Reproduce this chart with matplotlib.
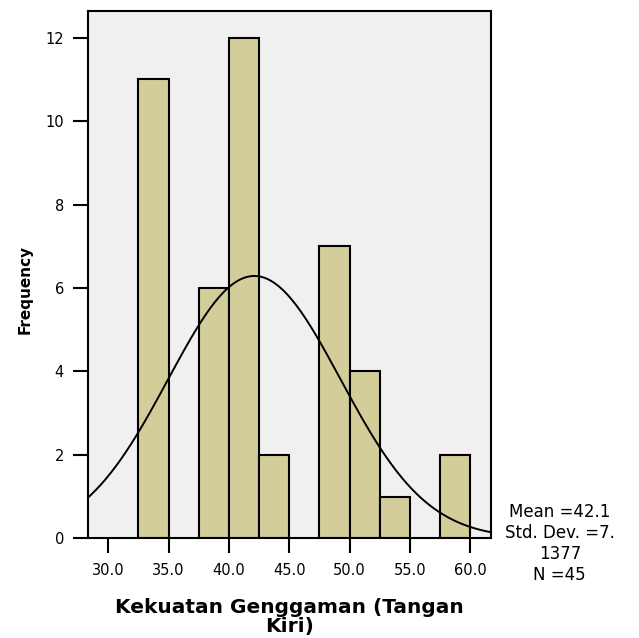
import numpy as np
import matplotlib
matplotlib.use("Agg")
import matplotlib.pyplot as plt

# histogram data (bin width 2.5)
bin_left = [32.5, 37.5, 40.0, 42.5, 47.5, 50.0, 52.5, 57.5]
counts = [11, 6, 12, 2, 7, 4, 1, 2]
bin_width = 2.5

mean_val = 42.1
std_val = 7.1377
n_val = 45

x_ticks = [30.0, 35.0, 40.0, 45.0, 50.0, 55.0, 60.0]
y_ticks = [0, 2, 4, 6, 8, 10, 12]

plt.rcParams['font.family'] = ['DejaVu Sans']

fig = plt.figure(figsize=(6.39, 6.38), dpi=100)
ax = fig.add_axes([0.137, 0.1563, 0.631, 0.8265])
ax.set_facecolor('#f0f0f0')

ax.bar(bin_left, counts, width=bin_width, align='edge',
       color='#d3ce99', edgecolor='black', linewidth=1.5, zorder=2)

# fitted normal curve
xs = np.linspace(28.28, 61.69, 400)
ys = n_val * bin_width / (std_val * np.sqrt(2 * np.pi)) * np.exp(-0.5 * ((xs - mean_val) / std_val) ** 2)
ax.plot(xs, ys, color='black', linewidth=1.4, zorder=3)

ax.set_xlim(28.28, 61.69)
ax.set_ylim(0, 12.64)
ax.set_xticks(x_ticks)
ax.set_xticklabels([f"{t:.1f}" for t in x_ticks])
ax.set_yticks(y_ticks)
ax.tick_params(axis='both', direction='out', length=11, width=1.5, labelsize=10.5, colors='black')
ax.tick_params(axis='x', pad=7)
ax.tick_params(axis='y', pad=6)
for sp in ax.spines.values():
    sp.set_linewidth(1.5)

ax.set_ylabel('Frequency', fontsize=11, fontweight='bold')
ax.yaxis.set_label_coords(-0.135, 0.471)
ax.set_xlabel('Kekuatan Genggaman (Tangan\nKiri)', fontsize=14.5, fontweight='bold',
              labelpad=14, linespacing=1.0)

fig.text(0.876, 0.148, 'Mean =42.1\nStd. Dev. =7.\n1377\nN =45', ha='center', va='center',
         fontsize=12, linespacing=1.2)

fig.savefig('out.png', dpi=100)
